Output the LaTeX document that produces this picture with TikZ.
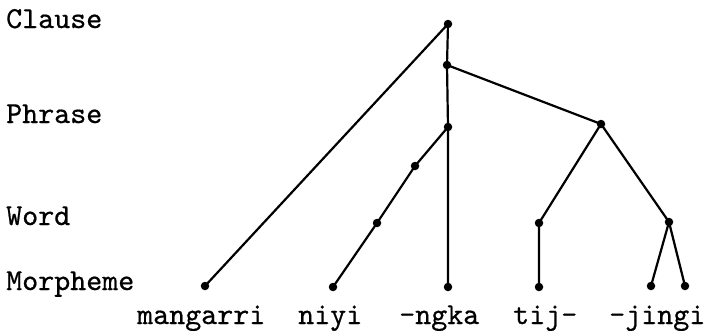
\documentclass[tikz,border=0pt]{standalone}
\usepackage{fontspec}
\newfontfamily\twfont{lmmono10-regular.otf}[FakeBold=0.6]
\begin{document}
\begin{tikzpicture}[x=1pt,y=-1pt,
  dot/.style={circle,fill=black,inner sep=0pt,minimum size=8.5pt},
  edge/.style={line width=2.2pt},
  lbl/.style={anchor=base west,inner sep=0pt,font=\fontsize{30.5}{33}\twfont}]
\useasboundingbox (0,0) rectangle (707,330);
% level labels
\node[lbl] (tclause) at (6,28) {Clause};
\node[lbl] (tphrase) at (6,123) {Phrase};
\node[lbl] (tword) at (6,225) {Word};
\node[lbl] (tmorph) at (6,290) {Morpheme};
% word labels
\node[lbl] (tmang) at (137,324) {mangarri};
\node[lbl] (tniyi) at (298,324) {niyi};
\node[lbl] (tngka) at (399,324) {-ngka};
\node[lbl] (ttij) at (513,324) {tij-};
\node[lbl] (tjingi) at (609,324) {-jingi};
% tree nodes
\node[dot] (c1) at (448,24) {};
\node[dot] (c2) at (447,65) {};
\node[dot] (p1) at (448,127) {};
\node[dot] (w1a) at (415,166) {};
\node[dot] (w1b) at (377,223) {};
\node[dot] (m2) at (333,287) {};
\node[dot] (m1) at (205,286) {};
\node[dot] (m3) at (448,287) {};
\node[dot] (p2) at (601,124) {};
\node[dot] (w2) at (539,223) {};
\node[dot] (m4) at (539,287) {};
\node[dot] (w3) at (669,222) {};
\node[dot] (m5) at (651,286) {};
\node[dot] (m6) at (685,286) {};
% connectors
\draw[edge] (c1.center) -- (m1.center);
\draw[edge] (c1.center) -- (c2.center) -- (p1.center) -- (m3.center);
\draw[edge] (c2.center) -- (p2.center);
\draw[edge] (p1.center) -- (w1a.center) -- (w1b.center) -- (m2.center);
\draw[edge] (p2.center) -- (w2.center) -- (m4.center);
\draw[edge] (p2.center) -- (w3.center) -- (m5.center);
\draw[edge] (w3.center) -- (m6.center);
\end{tikzpicture}
\end{document}
